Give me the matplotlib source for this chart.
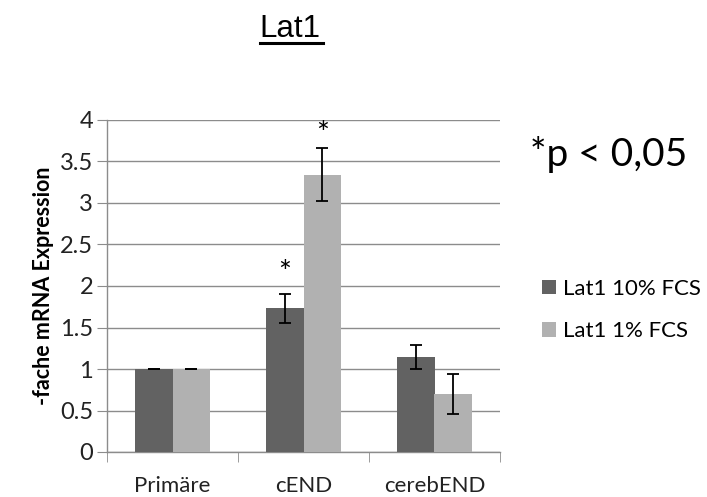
import matplotlib
matplotlib.use("Agg")
import matplotlib.pyplot as plt
import numpy as np

categories = ["Primäre", "cEND", "cerebEND"]
series_names = ["Lat1 10% FCS", "Lat1 1% FCS"]
vals_10 = [1.0, 1.73, 1.14]
err_10 = [0.0, 0.17, 0.145]
vals_1 = [1.0, 3.34, 0.695]
err_1 = [0.0, 0.32, 0.24]
yticks = [0, 0.5, 1, 1.5, 2, 2.5, 3, 3.5, 4]
ytick_labels = ["0", "0.5", "1", "1.5", "2", "2.5", "3", "3.5", "4"]
sig_10 = [False, True, False]
sig_1 = [False, True, False]

dark = "#626262"
light = "#b1b1b1"
grid = "#8c8c8c"
font = "Lato"

fig = plt.figure(figsize=(7.07, 4.97), dpi=100)
ax = fig.add_axes([107/707, 1-452/497, 393/707, 332/497])

x = np.arange(len(categories))
w = 0.286
ax.bar(x - w/2, vals_10, w, color=dark, zorder=3, label=series_names[0])
ax.bar(x + w/2, vals_1, w, color=light, zorder=3, label=series_names[1])
ax.errorbar(x - w/2, vals_10, yerr=err_10, fmt="none", ecolor="black",
            elinewidth=1.3, capsize=4, capthick=1.3, zorder=4)
ax.errorbar(x + w/2, vals_1, yerr=err_1, fmt="none", ecolor="black",
            elinewidth=1.3, capsize=4, capthick=1.3, zorder=4)

for i in range(len(categories)):
    if sig_10[i]:
        ax.text(x[i] - w/2, vals_10[i] + err_10[i] + 0.15, "*", ha="center",
                va="baseline", fontsize=22, family=font)
    if sig_1[i]:
        ax.text(x[i] + w/2, vals_1[i] + err_1[i] + 0.06, "*", ha="center",
                va="baseline", fontsize=22, family=font)

ax.set_xlim(-0.5, len(categories) - 0.5)
ax.set_ylim(0, 4)
ax.set_yticks(yticks)
ax.set_yticklabels(ytick_labels, fontsize=17, family=font, color="#222222")
ax.yaxis.grid(True, color=grid, linewidth=1.0, zorder=0)
ax.set_axisbelow(True)

ax.set_xticks(x)
ax.set_xticklabels(categories, fontsize=16, family=font, color="#222222")
ax.tick_params(axis="x", which="major", length=0, pad=17)
ax.set_xticks(np.arange(-0.5, len(categories), 1.0), minor=True)
ax.tick_params(axis="x", which="minor", length=7, color=grid, direction="out")
ax.tick_params(axis="y", length=7, color=grid, direction="out", pad=3)

for s in ["top", "right"]:
    ax.spines[s].set_visible(False)
for s in ["left", "bottom"]:
    ax.spines[s].set_color(grid)
    ax.spines[s].set_linewidth(1.0)

ax.set_ylabel("-fache mRNA Expression", fontsize=15.5, fontweight="bold",
              family=font, labelpad=4)

fig.text(289.5/707, 1-37/497, "Lat1", ha="center", va="baseline", fontsize=22.5,
         family="Liberation Sans")
fig.add_artist(plt.Line2D([260/707, 323/707], [1-43/497, 1-43/497],
                          color="black", linewidth=2.2))

fig.text(530/707, 1-155/497, "*p < 0,05", ha="left", va="center",
         fontsize=28, family=font)

leg = ax.legend(loc="upper left", bbox_to_anchor=(524/707, 1-261/497),
                bbox_transform=fig.transFigure, frameon=False,
                prop={"family": font, "size": 16}, handlelength=0.64,
                handleheight=0.64, handletextpad=0.3, labelspacing=1.02,
                borderpad=0.3)

fig.savefig("out.png", dpi=100)
